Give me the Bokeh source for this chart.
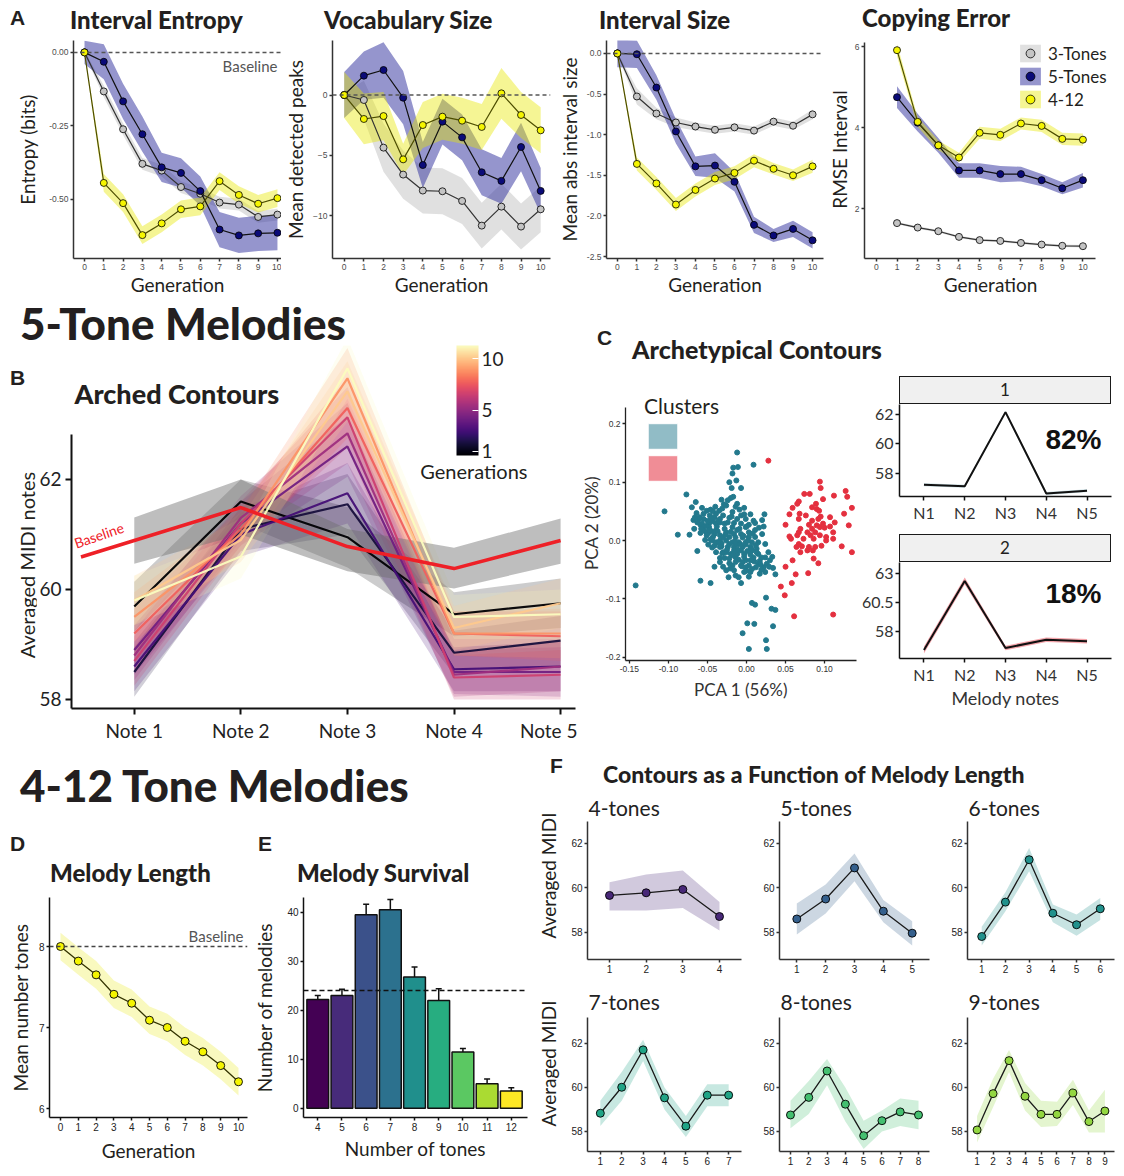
import math
from bokeh.plotting import figure
from bokeh.models import (Range1d, Label, Span, Legend, LegendItem, ColorBar,
                          LinearColorMapper, FixedTicker, Whisker, TeeHead, ColumnDataSource, Div,
                          NumeralTickFormatter)
from bokeh.layouts import row, column
from bokeh.palettes import Magma256, viridis
from bokeh.embed import file_html
from bokeh.resources import INLINE

# ---------------------------------------------------------------- data
generations = list(range(11))
copy_generations = list(range(1, 11))

entropy_3 = [0, -0.133, -0.262, -0.380, -0.403, -0.459, -0.482, -0.512, -0.519, -0.561, -0.553]
entropy_3_se = [0.005, 0.02, 0.02, 0.02, 0.02, 0.02, 0.02, 0.02, 0.02, 0.02, 0.02]
entropy_5 = [0, -0.032, -0.167, -0.279, -0.392, -0.411, -0.473, -0.604, -0.624, -0.617, -0.615]
entropy_5_se = [0.04, 0.06, 0.06, 0.06, 0.05, 0.05, 0.05, 0.06, 0.06, 0.06, 0.06]
entropy_412 = [0, -0.445, -0.514, -0.623, -0.583, -0.535, -0.525, -0.439, -0.486, -0.516, -0.497]
entropy_412_se = [0.005, 0.03, 0.03, 0.03, 0.03, 0.03, 0.03, 0.03, 0.03, 0.03, 0.03]

vocab_3 = [0, -0.41, -4.35, -6.58, -7.9, -7.96, -8.76, -10.8, -9.23, -10.88, -9.45]
vocab_3_se = [0.2, 1.6, 2.0, 2.0, 1.9, 1.9, 1.9, 1.9, 1.9, 1.9, 1.9]
vocab_5 = [0, 1.6, 2.07, -0.22, -5.79, -2.2, -3.5, -6.39, -7.1, -4.3, -7.93]
vocab_5_se = [1.9, 2.0, 2.3, 2.2, 1.9, 1.9, 1.9, 1.9, 1.9, 2.0, 1.9]
vocab_412 = [0, -1.98, -1.74, -5.32, -2.48, -1.79, -2.12, -2.64, 0.14, -1.65, -2.92]
vocab_412_se = [1.9, 2.1, 2.0, 1.3, 1.9, 1.9, 1.9, 1.9, 2.1, 1.9, 1.9]

isize_3 = [0, -0.53, -0.74, -0.85, -0.90, -0.94, -0.91, -0.95, -0.84, -0.89, -0.75]
isize_3_se = [0.01, 0.1, 0.07, 0.06, 0.05, 0.05, 0.05, 0.05, 0.05, 0.05, 0.06]
isize_5 = [0, -0.01, -0.42, -0.96, -1.39, -1.38, -1.58, -2.11, -2.24, -2.16, -2.30]
isize_5_se = [0.17, 0.17, 0.15, 0.15, 0.12, 0.15, 0.12, 0.1, 0.08, 0.1, 0.1]
isize_412 = [0, -1.36, -1.60, -1.86, -1.68, -1.54, -1.47, -1.32, -1.42, -1.50, -1.39]
isize_412_se = [0.01, 0.08, 0.08, 0.08, 0.08, 0.08, 0.08, 0.08, 0.07, 0.07, 0.08]

copy_3 = [1.64, 1.53, 1.44, 1.30, 1.22, 1.20, 1.15, 1.11, 1.08, 1.07]
copy_3_se = [0.03, 0.03, 0.03, 0.03, 0.03, 0.03, 0.03, 0.03, 0.03, 0.03]
copy_5 = [4.75, 4.12, 3.56, 2.94, 2.94, 2.85, 2.85, 2.70, 2.50, 2.70]
copy_5_se = [0.27, 0.22, 0.18, 0.18, 0.18, 0.2, 0.18, 0.15, 0.15, 0.18]
copy_412 = [5.91, 4.14, 3.56, 3.26, 3.87, 3.82, 4.10, 4.04, 3.72, 3.70]
copy_412_se = [0.15, 0.12, 0.12, 0.12, 0.15, 0.15, 0.15, 0.15, 0.15, 0.15]

series_names = ["3-Tones", "5-Tones", "4-12"]

notes = [1, 2, 3, 4, 5]
note_labels = ["Note 1", "Note 2", "Note 3", "Note 4", "Note 5"]
baseline_x = [0.5, 1, 2, 3, 4, 5]
baseline_y = [60.59, 60.89, 61.49, 60.78, 60.38, 60.89]
baseline_lo = [60.47, 61.0, 60.33, 60.02, 60.47]
baseline_hi = [61.31, 62.0, 61.1, 60.76, 61.29]
gen_contours = [
    [59.69, 61.60, 60.95, 59.55, 59.75],
    [58.50, 61.10, 61.55, 58.85, 59.07],
    [58.60, 61.00, 61.75, 58.55, 58.60],
    [58.90, 61.20, 62.60, 58.50, 58.50],
    [58.80, 61.30, 62.84, 58.45, 58.60],
    [58.70, 61.20, 63.13, 58.40, 58.45],
    [59.20, 61.10, 63.30, 59.20, 59.15],
    [59.50, 61.00, 63.84, 59.20, 59.20],
    [59.80, 60.90, 63.60, 59.30, 59.75],
    [59.80, 60.60, 64.02, 59.50, 59.55],
]
gen_contour_se = [0.45, 0.4, 0.55, 0.4, 0.45]

teal_x = [-0.012, 0.009, -0.017, -0.011, -0.018, -0.022, -0.013, -0.019, -0.007, -0.077,
          -0.105, -0.017, -0.020, -0.032, -0.026, -0.024, -0.065, -0.070, -0.057, -0.064,
          -0.051, -0.046, -0.035, -0.012, -0.003, -0.009, 0.023, 0.005, -0.061, -0.068,
          -0.055, -0.034, -0.022, -0.012, -0.001, 0.009, -0.048, -0.039, -0.028, 0.011,
          0.022, -0.067, -0.056, -0.048, -0.039, -0.018, -0.001, -0.073, -0.088, -0.059,
          -0.049, -0.041, -0.034, -0.026, -0.016, -0.007, 0.003, 0.011, -0.053, -0.044,
          -0.034, -0.026, -0.018, -0.010, -0.001, 0.007, 0.015, -0.049, -0.041, -0.032,
          -0.024, -0.016, -0.005, 0.005, 0.013, -0.063, -0.039, -0.030, -0.020, -0.012,
          -0.003, 0.005, 0.015, 0.024, -0.034, -0.022, -0.010, -0.001, 0.007, 0.017,
          0.026, -0.041, -0.030, -0.018, -0.007, 0.003, 0.012, 0.022, 0.034, -0.026,
          -0.016, -0.003, 0.005, 0.017, 0.037, -0.014, -0.023, -0.010, -0.059, -0.046,
          -0.007, -0.142, 0.025, 0.007, 0.011, 0.032, 0.037, 0.001, 0.010, 0.034,
          -0.005, 0.025, 0.003, 0.026,
          -0.055, -0.047, -0.041, -0.030, -0.050, -0.043, -0.034, -0.024, -0.016, -0.007,
          0.003, -0.059, -0.053, -0.045, -0.037, -0.022, -0.014, -0.005, 0.003, 0.011,
          -0.032, -0.022, -0.012, -0.001, 0.007, -0.016, -0.007, 0.001, 0.009, 0.015,
          -0.014, -0.005, -0.022, -0.034, -0.001, 0.007, 0.024, -0.043, -0.051, -0.063,
          -0.057, -0.039, -0.018, -0.007, 0.020, 0.024, 0.030, 0.019, 0.005, -0.026,
          -0.034, -0.039, -0.030, -0.014,
          -0.045, -0.036, -0.028, -0.020, -0.012, -0.004, 0.002, -0.008, -0.015, -0.027,
          -0.038, -0.047, -0.052, -0.060, -0.043, -0.031, -0.019, -0.009, 0.006, 0.013,
          0.018, 0.010, -0.003, -0.017, -0.028, -0.021, 0.000, 0.019, 0.029, 0.003,
          -0.011, -0.025, -0.036, -0.046, -0.058, -0.066, 0.016, 0.020, -0.003, -0.014,
          -0.029, -0.040, 0.012, 0.028, 0.033, -0.006, -0.031, -0.044, 0.000, 0.008]
teal_y = [0.151, 0.130, 0.125, 0.126, 0.115, 0.100, 0.103, 0.090, 0.090, 0.079,
          0.050, 0.075, 0.073, 0.070, 0.060, 0.069, 0.066, 0.057, 0.056, 0.047,
          0.051, 0.053, 0.051, 0.063, 0.056, 0.053, 0.045, 0.045, 0.037, 0.035,
          0.037, 0.037, 0.039, 0.037, 0.037, 0.034, 0.029, 0.029, 0.029, 0.030,
          0.024, 0.020, 0.020, 0.023, 0.018, 0.023, 0.023, 0.010, 0.010, 0.013,
          0.013, 0.011, 0.009, 0.014, 0.011, 0.011, 0.014, 0.018, 0.001, 0.000,
          0.000, 0.000, -0.003, -0.003, -0.003, -0.003, -0.003, -0.007, -0.009, -0.010,
          -0.011, -0.011, -0.011, -0.011, -0.014, -0.018, -0.020, -0.020, -0.023, -0.023,
          -0.023, -0.024, -0.023, -0.029, -0.030, -0.031, -0.033, -0.034, -0.033, -0.035,
          -0.040, -0.045, -0.045, -0.043, -0.043, -0.043, -0.046, -0.046, -0.047, -0.051,
          -0.051, -0.054, -0.054, -0.057, -0.058, -0.060, -0.063, -0.063, -0.069, -0.073,
          -0.073, -0.077, -0.098, -0.107, -0.110, -0.117, -0.119, -0.142, -0.143, -0.147,
          -0.159, -0.171, -0.186, -0.186,
          0.046, 0.043, 0.040, 0.043, 0.034, 0.033, 0.031, 0.031, 0.030, 0.029,
          0.027, 0.027, 0.016, 0.016, 0.016, 0.006, 0.005, 0.005, 0.006, 0.006,
          -0.005, -0.006, -0.007, -0.007, -0.017, -0.017, -0.017, -0.018, -0.029, -0.040,
          -0.037, -0.037, -0.039, -0.037, -0.046, -0.049, -0.054, 0.006, 0.009, 0.031,
          0.029, 0.046, 0.049, 0.043, 0.011, -0.006, -0.034, -0.029, -0.034, -0.020,
          -0.011, -0.003, 0.005, -0.029,
          0.038, 0.034, 0.020, 0.015, 0.018, 0.008, 0.000, -0.006, -0.002, 0.010,
          0.024, 0.018, 0.025, 0.040, 0.050, 0.055, 0.041, 0.020, -0.014, -0.020,
          -0.041, -0.036, -0.028, -0.025, -0.030, -0.048, -0.052, -0.050, -0.045, -0.062,
          -0.016, -0.016, -0.004, 0.002, 0.020, 0.040, 0.022, 0.035, 0.045, 0.058,
          0.062, 0.058, -0.008, -0.020, -0.028, -0.044, -0.022, -0.012, 0.024, 0.012]
red_x = [0.028, 0.094, 0.095, 0.127, 0.112, 0.074, 0.081, 0.129, 0.067, 0.065,
         0.098, 0.089, 0.059, 0.084, 0.090, 0.093, 0.135, 0.068, 0.055, 0.076,
         0.125, 0.095, 0.084, 0.092, 0.107, 0.067, 0.113, 0.098, 0.090, 0.080,
         0.050, 0.107, 0.131, 0.069, 0.084, 0.094, 0.100, 0.067, 0.078, 0.088,
         0.111, 0.055, 0.065, 0.082, 0.094, 0.102, 0.057, 0.073, 0.086, 0.111,
         0.102, 0.067, 0.071, 0.080, 0.088, 0.096, 0.064, 0.122, 0.069, 0.078,
         0.085, 0.135, 0.059, 0.086, 0.092, 0.050, 0.063, 0.079, 0.058, 0.044,
         0.049, 0.061, 0.111]
red_y = [0.137, 0.101, 0.090, 0.085, 0.077, 0.080, 0.080, 0.075, 0.067, 0.063,
         0.071, 0.063, 0.056, 0.057, 0.054, 0.051, 0.056, 0.046, 0.045, 0.043,
         0.046, 0.041, 0.034, 0.037, 0.040, 0.037, 0.031, 0.029, 0.026, 0.027,
         0.027, 0.024, 0.026, 0.020, 0.020, 0.023, 0.022, 0.014, 0.014, 0.014,
         0.014, 0.007, 0.009, 0.009, 0.009, 0.006, 0.003, 0.003, 0.003, 0.003,
         0.000, -0.006, -0.010, -0.011, -0.011, -0.009, -0.011, -0.010, -0.020, -0.017,
         -0.017, -0.020, -0.034, -0.031, -0.039, -0.045, -0.058, -0.056, -0.073, -0.079,
         -0.094, -0.130, -0.127]

short_notes = ["N1", "N2", "N3", "N4", "N5"]
cluster1 = [57.2, 57.1, 62.15, 56.6, 56.8]
cluster1_se = [0.1, 0.1, 0.1, 0.1, 0.1]
cluster2 = [56.36, 62.38, 56.54, 57.25, 57.13]
cluster2_se = [0.3, 0.3, 0.2, 0.2, 0.2]
cluster_share = ["82%", "18%"]

length_mean = [8.0, 7.82, 7.65, 7.41, 7.30, 7.09, 7.0, 6.83, 6.70, 6.53, 6.33]
length_se = [0.17] * 11

tones = [4, 5, 6, 7, 8, 9, 10, 11, 12]
survival = [22.2, 23.0, 39.5, 40.5, 26.8, 22.0, 11.5, 5.0, 3.5]
survival_err = [0.8, 1.3, 2.1, 2.1, 2.0, 2.4, 0.7, 0.95, 0.7]
survival_baseline = 24

f_titles = ["4-tones", "5-tones", "6-tones", "7-tones", "8-tones", "9-tones"]
f_mean = [
    [59.66, 59.78, 59.93, 58.71],
    [58.6, 59.5, 60.9, 58.95, 57.96],
    [57.81, 59.36, 61.27, 58.86, 58.34, 59.06],
    [58.83, 60.01, 61.71, 59.53, 58.24, 59.65, 59.65],
    [58.75, 59.55, 60.75, 59.24, 57.81, 58.49, 58.89, 58.75],
    [58.07, 59.72, 61.22, 59.6, 58.78, 58.78, 59.75, 58.45, 58.93],
]
f_lo = [
    [58.98, 58.98, 59.09, 58.08],
    [57.9, 58.85, 60.3, 58.45, 57.4],
    [57.4, 58.95, 60.75, 58.45, 57.85, 58.55],
    [58.25, 59.4, 61.2, 59.0, 57.75, 59.15, 59.15],
    [58.15, 58.8, 60.1, 58.45, 57.2, 58.0, 58.25, 58.1],
    [57.5, 59.1, 60.7, 58.95, 58.2, 58.25, 59.2, 57.95, 57.95],
]
f_hi = [
    [60.26, 60.6, 60.78, 59.36],
    [59.3, 60.15, 61.55, 59.45, 58.5],
    [58.25, 59.8, 61.8, 59.25, 58.8, 59.55],
    [59.4, 60.7, 62.17, 60.0, 58.7, 60.15, 60.15],
    [59.4, 60.3, 61.3, 60.0, 58.49, 58.95, 59.5, 59.4],
    [58.7, 60.4, 61.7, 60.2, 59.4, 59.35, 60.35, 58.95, 59.9],
]
f_colors = ["#482878", "#35608D", "#21918C", "#20A486", "#44BF70", "#93D741"]

# ---------------------------------------------------------------- style
INK = "#231F20"
TITLE_FONT = "'Lato Black', Lato"
LAB_FONT = "Lato"
TICK_FONT = "Liberation Sans"
SERIES_STYLE = [  # band colour, band alpha, line colour, point fill
    ("#BBBBBB", 0.45, "#333333", "#C4C4C4"),
    ("#2B2B9B", 0.5, "#111111", "#0A0A78"),
    ("#E8E800", 0.42, "#4D4D00", "#F5F500"),
]
NAN = float("nan")


class Panel:
    def __init__(self, box, frame, xr, yr):
        X0, Y0, X1, Y1 = box
        self.fl, self.ft, self.fr, self.fb = frame
        self.xr, self.yr = xr, yr
        p = figure(width=X1 - X0, height=Y1 - Y0,
                   x_range=Range1d(*xr), y_range=Range1d(*yr),
                   min_border_left=self.fl - X0, min_border_right=X1 - self.fr,
                   min_border_top=self.ft - Y0, min_border_bottom=Y1 - self.fb,
                   output_backend="svg", toolbar_location=None, title=None)
        p.grid.visible = False
        p.outline_line_color = None
        p.axis.minor_tick_line_color = None
        p.axis.major_tick_in = 0
        self.p = p

    def axes(self, font=TICK_FONT, size=8.5, color="#4D4D4D", line="#333333", lw=1.5,
             out=3, standoff=2):
        for ax in (self.p.xaxis, self.p.yaxis):
            ax.axis_line_color = line
            ax.axis_line_width = lw
            ax.major_tick_line_color = line
            ax.major_tick_line_width = lw
            ax.major_tick_out = out
            ax.major_label_text_font = font
            ax.major_label_text_font_size = f"{size}px"
            ax.major_label_text_color = color
            ax.major_label_standoff = standoff

    def titles(self, xlabel=None, ylabel=None, xs=0, ys=0, size=19, color=INK):
        for ax, lab, st in ((self.p.xaxis, xlabel, xs), (self.p.yaxis, ylabel, ys)):
            if lab:
                ax.axis_label = lab
                ax.axis_label_standoff = st
                ax.axis_label_text_font = LAB_FONT
                ax.axis_label_text_font_size = f"{size}px"
                ax.axis_label_text_font_style = "normal"
                ax.axis_label_text_color = color

    def dx(self, px):
        return self.xr[0] + (px - self.fl) / (self.fr - self.fl) * (self.xr[1] - self.xr[0])

    def dy(self, py):
        return self.yr[1] - (py - self.ft) / (self.fb - self.ft) * (self.yr[1] - self.yr[0])

    def label(self, px, py, text, size, font=LAB_FONT, style="normal", color=INK,
              align="left", baseline="middle", angle=0.0):
        self.p.add_layout(Label(x=self.dx(px), y=self.dy(py), text=text, text_font=font,
                                text_font_size=f"{size}px", text_font_style=style,
                                text_color=color, text_align=align, text_baseline=baseline,
                                angle=angle))


def header(w, h, items):
    spans = []
    for left, cy, text, css in items:
        spans.append(f'<span style="position:absolute;left:{left}px;top:{cy - 30}px;'
                     f'height:60px;line-height:60px;white-space:nowrap;color:{INK};{css}">{text}</span>')
    html = f'<div style="position:relative;width:{w}px;height:{h}px;">' + "".join(spans) + "</div>"
    return Div(text=html, width=w, height=h, margin=(0, 0, 0, 0))


HEAD_CSS = "font-family:Lato;font-weight:900;font-size:44px;"
TITLE_CSS = "font-family:Lato;font-weight:900;font-size:24px;"
LETTER_CSS = "font-family:'Liberation Sans';font-weight:bold;font-size:21px;"

# ---------------------------------------------------------------- panel A
head_A = header(1116, 36, [(10, 18, "A", LETTER_CSS),
                           (70, 20, "Interval Entropy", TITLE_CSS),
                           (324, 20, "Vocabulary Size", TITLE_CSS),
                           (599, 20, "Interval Size", TITLE_CSS),
                           (862, 18, "Copying Error", TITLE_CSS)])


def a_panel(box, frame, xr, yr, xs, series, yticks, yfmt, baseline, ylab, ystand,
            bounds=None, legend=False, base_label=None):
    pn = Panel(box, frame, xr, yr)
    p = pn.p
    bands = []
    for (vals, se), (bc, ba, lc, pc) in zip(series, SERIES_STYLE):
        lo = [v - s for v, s in zip(vals, se)]
        hi = [v + s for v, s in zip(vals, se)]
        bands.append(p.varea(x=xs, y1=lo, y2=hi, fill_color=bc, fill_alpha=ba))
    if baseline:
        p.add_layout(Span(location=0, dimension="width", line_color="#555555",
                          line_width=1.5, line_dash="4 3"))
    pts = []
    for (vals, se), (bc, ba, lc, pc) in zip(series, SERIES_STYLE):
        p.line(xs, vals, line_color=lc, line_width=1.2)
        pts.append(p.scatter(xs, vals, size=7, fill_color=pc, line_color="black", line_width=0.8))
    pn.axes()
    pn.titles("Generation", ylab, 0, ystand)
    p.xaxis.ticker = generations
    p.yaxis.ticker = yticks
    if yfmt:
        p.yaxis.formatter = NumeralTickFormatter(format=yfmt)
    if bounds:
        p.xaxis.bounds = bounds[0]
        p.yaxis.bounds = bounds[1]
    if base_label:
        pn.label(base_label[0], base_label[1], "Baseline", 15, color="#555555", align="right")
    if legend:
        items = [LegendItem(label=n, renderers=[b, s]) for n, b, s in zip(series_names, bands, pts)]
        leg = Legend(items=items, location=(153, 148), glyph_width=26, glyph_height=22,
                     spacing=1, padding=0, margin=0, label_standoff=5, label_height=22,
                     label_text_font=LAB_FONT, label_text_font_size="17px",
                     label_text_color=INK, background_fill_alpha=0, border_line_color=None)
        p.add_layout(leg)
    return p


A1 = a_panel((0, 36, 281, 300), (73, 40, 281, 260), (-0.57, 10.21), (-0.7027, 0.0405), generations,
             [(entropy_3, entropy_3_se), (entropy_5, entropy_5_se), (entropy_412, entropy_412_se)],
             [0, -0.25, -0.5], "0.00", True, "Entropy (bits)", 7, base_label=(277, 66))
A2 = a_panel((281, 36, 554, 300), (327, 40, 550, 260), (-0.597, 10.5), (-13.52, 4.51), generations,
             [(vocab_3, vocab_3_se), (vocab_5, vocab_5_se), (vocab_412, vocab_412_se)],
             [0, -5, -10], None, True, "Mean detected peaks", 3)
A3 = a_panel((554, 36, 824, 300), (603, 40, 823, 260), (-0.556, 10.56), (-2.524, 0.159), generations,
             [(isize_3, isize_3_se), (isize_5, isize_5_se), (isize_412, isize_412_se)],
             [0, -0.5, -1.0, -1.5, -2.0, -2.5], "0.0", True, "Mean abs interval size", 3)
A4 = a_panel((824, 36, 1116, 300), (861, 36, 1116, 258), (-0.574, 11.625), (0.766, 6.149),
             copy_generations,
             [(copy_3, copy_3_se), (copy_5, copy_5_se), (copy_412, copy_412_se)],
             [2, 4, 6], None, False, "RMSE Interval", 1,
             bounds=((-0.574, 10.62), (0.766, 6.10)), legend=True)

# ---------------------------------------------------------------- panel B
head_B = header(577, 45, [(20, 23, "5-Tone Melodies", HEAD_CSS)])
side_B = Div(text=(f'<div style="position:relative;width:36px;height:401px;">'
                   f'<span style="position:absolute;left:10px;top:3px;height:60px;line-height:60px;'
                   f'color:{INK};{LETTER_CSS}">B</span>'
                   f'<span style="position:absolute;left:27px;top:220px;white-space:nowrap;'
                   f'transform:translate(-50%,-50%) rotate(-90deg);font-family:Lato;font-size:20px;'
                   f'line-height:20px;color:{INK};">Averaged MIDI notes</span></div>'),
             width=36, height=401, margin=(0, 0, 0, 0))
pb = Panel((36, 345, 577, 746), (69, 345, 575, 708), (0.411, 5.14), (57.836, 64.436))
B = pb.p
gen_cols = [Magma256[int(round(k / 9 * 255))] for k in range(10)]
for vals, col in zip(gen_contours, gen_cols):
    B.varea(x=notes, y1=[v - s for v, s in zip(vals, gen_contour_se)],
            y2=[v + s for v, s in zip(vals, gen_contour_se)], fill_color=col, fill_alpha=0.2)
B.varea(x=notes, y1=baseline_lo, y2=baseline_hi, fill_color="#6E6E6E", fill_alpha=0.45)
for vals, col in zip(gen_contours, gen_cols):
    B.line(notes, vals, line_color=col, line_width=2.2, line_alpha=0.95)
B.line(baseline_x, baseline_y, line_color="#EE2027", line_width=3.5)
pb.axes(font=LAB_FONT, size=19, color="#222222", line="#111111", lw=2, out=6, standoff=4)
B.xaxis.ticker = notes
B.xaxis.major_label_overrides = {n: t for n, t in zip(notes, note_labels)}
B.yaxis.ticker = [58, 60, 62]
B.yaxis.bounds = (57.836, 62.82)
cb = ColorBar(color_mapper=LinearColorMapper(palette=Magma256, low=0.6, high=11.3),
              ticker=FixedTicker(ticks=[1, 5, 10]), orientation="vertical",
              width=22, height=110, location=(385, 253), padding=0, margin=0,
              major_label_text_font=LAB_FONT, major_label_text_font_size="19px",
              major_label_text_color="#222222", major_tick_line_color="white",
              major_tick_in=6, major_tick_out=0, bar_line_color=None,
              border_line_color=None, background_fill_alpha=0, label_standoff=3)
B.add_layout(cb)
pb.label(72, 393, "Arched Contours", 27, font=TITLE_FONT, style="bold")
pb.label(473, 470, "Generations", 20, align="center")
pb.label(75, 551, "Baseline", 14, color="#EE2027", baseline="bottom", angle=0.33)

# ---------------------------------------------------------------- panel C
head_C = header(539, 76, [(20, 38, "C", LETTER_CSS),
                          (55, 49, "Archetypical Contours", "font-family:Lato;font-weight:900;font-size:25px;")])
pc = Panel((577, 376, 857, 746), (618, 385, 856, 660), (-0.155, 0.1409), (-0.2058, 0.2659))
C = pc.p
C.scatter(teal_x, teal_y, size=5, color="#23798D")
C.scatter(red_x, red_y, size=5, color="#E4303F")
q1 = C.quad(left=[NAN], right=[NAN], top=[NAN], bottom=[NAN], fill_color="#23798D", fill_alpha=0.5,
            line_color="white", line_width=1)
q2 = C.quad(left=[NAN], right=[NAN], top=[NAN], bottom=[NAN], fill_color="#E4303F", fill_alpha=0.55,
            line_color="white", line_width=1)
C.add_layout(Legend(items=[LegendItem(label=" ", renderers=[q1]), LegendItem(label=" ", renderers=[q2])],
                    title="Clusters", location=(19, 176), glyph_width=37, glyph_height=32,
                    spacing=0, padding=0, margin=0, label_standoff=0, label_width=0,
                    title_text_font=LAB_FONT, title_text_font_size="21px",
                    title_text_font_style="normal", title_text_color=INK, title_standoff=2,
                    background_fill_alpha=0, border_line_color=None))
pc.axes(size=8.5, color="#333333", line="#222222", lw=1.3, out=3, standoff=2)
pc.titles("PCA 1 (56%)", "PCA 2 (20%)", 4, 1, size=17, color="#333333")
C.xaxis.ticker = [-0.15, -0.1, -0.05, 0, 0.05, 0.1]
C.xaxis.formatter = NumeralTickFormatter(format="0.00")
C.yaxis.ticker = [-0.2, -0.1, 0, 0.1, 0.2]
C.yaxis.formatter = NumeralTickFormatter(format="0.0")
C.yaxis.bounds = (-0.206, 0.228)

STRIP = ("background-color:#F0F0F0;border:1.5px solid #1A1A1A;box-sizing:border-box;"
         "text-align:center;font-family:Lato;font-size:17px;line-height:25px;color:#231F20;")


def strip(text, top):
    return Div(text=f'<div style="{STRIP}width:212px;height:28px;">{text}</div>',
               width=212, height=28, margin=(top, 0, 0, 42))


def facet(box, frame, yr, vals, se, band, ticks, share, share_y, xlab=None):
    pn = Panel(box, frame, (0.4, 5.6), yr)
    p = pn.p
    p.varea(x=notes, y1=[v - s for v, s in zip(vals, se)], y2=[v + s for v, s in zip(vals, se)],
            fill_color=band[0], fill_alpha=band[1])
    p.line(notes, vals, line_color="#111111", line_width=2)
    pn.axes(font=LAB_FONT, size=16, color="#333333", line="#111111", lw=1.5, out=4, standoff=2)
    if xlab:
        pn.titles(xlab, None, 0, 0, size=18, color="#333333")
    p.xaxis.ticker = notes
    p.xaxis.major_label_overrides = {n: t for n, t in zip(notes, short_notes)}
    p.yaxis.ticker = ticks
    p.yaxis.major_label_overrides = {t: (f"{t:g}") for t in ticks}
    pn.label(1073, share_y, share, 28, font="'Liberation Sans Narrow', 'Liberation Sans'", style="bold",
             color="#111111", align="center")
    return p


F1c = facet((857, 404, 1116, 524), (899, 404, 1111, 498), (56.4, 62.67), cluster1, cluster1_se,
            ("#23798D", 0.25), [58, 60, 62], cluster_share[0], 440)
F2c = facet((857, 562, 1116, 746), (899, 562, 1111, 658), (55.62, 64.0), cluster2, cluster2_se,
            ("#F07F88", 0.7), [58, 60.5, 63], cluster_share[1], 593, xlab="Melody notes")
facet_col = column(strip("1", 0), F1c, strip("2", 10), F2c)
C_block = column(head_C, row(C, facet_col))

# ---------------------------------------------------------------- panels D and E
head_DE = header(532, 144, [(20, 39, "4-12 Tone Melodies", HEAD_CSS),
                            (10, 98, "D", LETTER_CSS),
                            (50, 127, "Melody Length", TITLE_CSS),
                            (258, 98, "E", LETTER_CSS),
                            (297, 127, "Melody Survival", TITLE_CSS)])
pd_ = Panel((0, 890, 250, 1168), (49, 897, 247, 1117), (-0.618, 10.506), (5.889, 8.605))
D = pd_.p
D.varea(x=generations, y1=[v - s for v, s in zip(length_mean, length_se)],
        y2=[v + s for v, s in zip(length_mean, length_se)], fill_color="#E8E800", fill_alpha=0.25)
D.add_layout(Span(location=8, dimension="width", line_color="#444444", line_width=1.5, line_dash="4 3"))
D.line(generations, length_mean, line_color="#333300", line_width=1.3)
D.scatter(generations, length_mean, size=8, fill_color="#F5F500", line_color="black", line_width=0.9)
pd_.axes(size=10, color="#222222", line="#111111", lw=1.5, out=3, standoff=2)
pd_.titles("Generation", "Mean number tones", 5, 4)
D.xaxis.ticker = generations
D.yaxis.ticker = [6, 7, 8]
pd_.label(243, 935, "Baseline", 15, color="#555555", align="right")

pe = Panel((250, 890, 532, 1168), (298, 897, 527, 1118), (3.41, 12.67), (-1.89, 43.0))
E = pe.p
E.vbar(x=tones, top=survival, width=0.9, fill_color=viridis(9), line_color="#111111", line_width=1.5)
E.add_layout(Span(location=survival_baseline, dimension="width", line_color="#111111",
                  line_width=1.5, line_dash="5 3"))
err_src = ColumnDataSource(dict(x=tones, lower=[s - e for s, e in zip(survival, survival_err)],
                                upper=[s + e for s, e in zip(survival, survival_err)]))
E.add_layout(Whisker(source=err_src, base="x", lower="lower", upper="upper", dimension="height",
                     line_color="#111111", line_width=1.5,
                     upper_head=TeeHead(size=6, line_width=1.5, line_color="#111111"),
                     lower_head=TeeHead(size=6, line_width=1.5, line_color="#111111")))
pe.axes(size=10, color="#222222", line="#111111", lw=1.5, out=3, standoff=2)
pe.titles("Number of tones", "Number of melodies", 3, 8)
E.xaxis.ticker = tones
E.yaxis.ticker = [0, 10, 20, 30, 40]

DE_block = column(head_DE, row(D, E))

# ---------------------------------------------------------------- panel F
head_F = header(584, 45, [(18, 20, "F", LETTER_CSS),
                          (71, 28, "Contours as a Function of Melody Length",
                           "font-family:Lato;font-weight:900;font-size:23px;")])
F_COLS = [((532, 760), (587, 741)), ((760, 948), (775, 929)), ((948, 1116), (964, 1114))]
F_ROWS = [((791, 975), (791, 959), (56.775, 64.342), (56.775, 63.0), 807),
          ((975, 1168), (975, 1151), (57.09, 65.09), (57.09, 63.18), 1001)]
f_figs = []
for i in range(6):
    (bx0, bx1), (fx0, fx1) = F_COLS[i % 3]
    (by0, by1), (fy0, fy1), yr, ybounds, ty = F_ROWS[i // 3]
    n = len(f_mean[i])
    xs = list(range(1, n + 1))
    pn = Panel((bx0, by0, bx1, by1), (fx0, fy0, fx1, fy1), (0.4, n + 0.6), yr)
    p = pn.p
    p.varea(x=xs, y1=f_lo[i], y2=f_hi[i], fill_color=f_colors[i], fill_alpha=0.25)
    p.line(xs, f_mean[i], line_color="#1A1A1A", line_width=1.3)
    p.scatter(xs, f_mean[i], size=8, fill_color=f_colors[i], line_color="black", line_width=0.9)
    pn.axes(size=10, color="#222222", line="#333333", lw=1.5, out=3, standoff=2)
    if i % 3 == 0:
        pn.titles(None, "Averaged MIDI", 0, 8)
    p.xaxis.ticker = xs
    p.yaxis.ticker = [58, 60, 62]
    p.yaxis.bounds = ybounds
    pn.label(fx0 + 1, ty, f_titles[i], 21, color="#222222")
    f_figs.append(p)

F_block = column(head_F, row(*f_figs[:3]), row(*f_figs[3:]))

# ---------------------------------------------------------------- layout
layout = column(
    head_A,
    row(A1, A2, A3, A4),
    row(column(head_B, row(side_B, B)), C_block),
    row(DE_block, F_block),
)

open("out.html", "w").write(file_html(layout, INLINE, title="Melody evolution"))
